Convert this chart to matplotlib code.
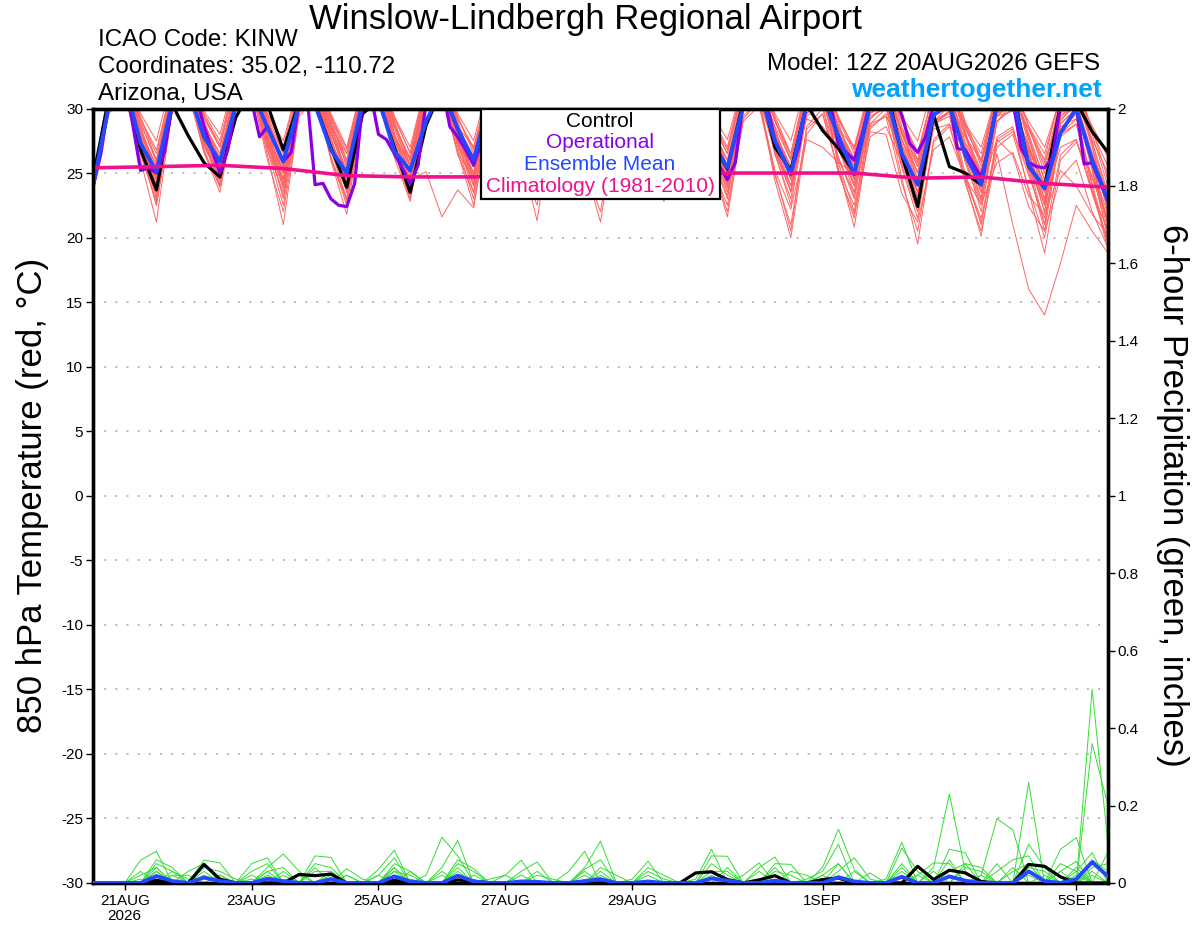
import matplotlib
matplotlib.use('Agg')
import matplotlib.pyplot as plt
from matplotlib.patches import Rectangle

plt.rcParams['font.family'] = ['Liberation Sans', 'DejaVu Sans']

# ---------------- data ----------------
hours = list(range(0, 385, 6))          # GEFS 6-hourly steps from 12Z 20AUG2026 (65 steps)
oper_hours = list(range(0, 385, 3))     # operational GFS 3-hourly steps (129 steps)
clim_hours = [0, 24, 48, 72, 96, 120, 144, 168, 192, 216, 240, 264, 288, 312, 336, 360, 384]
xtick_hours = [12, 60, 108, 156, 204, 276, 324, 372]
xtick_labels = ['21AUG\n2026', '23AUG', '25AUG', '27AUG', '29AUG', '1SEP', '3SEP', '5SEP']
temp_ticks = [-30, -25, -20, -15, -10, -5, 0, 5, 10, 15, 20, 25, 30]
precip_ticks = [0, 0.2, 0.4, 0.6, 0.8, 1.0, 1.2, 1.4, 1.6, 1.8, 2.0]
precip_tick_labels = ['0', '0.2', '0.4', '0.6', '0.8', '1', '1.2', '1.4', '1.6', '1.8', '2']

control_t = [24.6, 30.8, 32.0, 26.8, 23.7, 30.3, 27.9, 25.8, 24.7, 29.3, 31.5, 30.3,
             26.8, 30.5, 30.4, 27.0, 23.9, 29.6, 30.6, 27.0, 23.5, 28.7, 31.5, 28.4,
             26.0, 30.5, 32.0, 28.5, 25.5, 30.5, 32.0, 28.5, 25.8, 30.5, 32.0, 28.5,
             25.5, 30.5, 31.8, 27.5, 25.3, 30.5, 32.0, 27.0, 25.2, 30.3, 28.3, 26.9,
             25.0, 30.3, 31.8, 26.4, 22.4, 29.5, 25.5, 25.0, 24.1, 30.3, 31.5, 25.5,
             23.9, 30.2, 30.5, 28.2, 26.6]
oper_t = [23.9, 26.5, 30.5, 32.0, 32.2, 28.8, 25.2, 25.4,
          25.0, 26.6, 30.3, 31.8, 32.2, 31.0, 28.6, 26.8,
          25.0, 26.8, 30.3, 31.5, 30.6, 27.8, 28.6, 27.2,
          25.9, 26.6, 30.5, 31.0, 24.1, 24.2, 23.0, 22.5,
          22.4, 24.2, 30.5, 31.2, 28.0, 27.6, 26.5, 25.4,
          24.2, 25.6, 30.5, 31.6, 31.8, 28.6, 27.8, 26.8,
          25.6, 27.5, 30.5, 31.6, 31.8, 30.0, 28.2, 26.8,
          25.5, 27.2, 30.5, 31.6, 31.8, 30.2, 28.4, 27.0,
          25.6, 27.4, 30.3, 31.4, 31.5, 29.8, 28.0, 26.6,
          25.2, 27.0, 30.3, 31.2, 31.0, 29.4, 27.6, 25.5,
          24.5, 25.8, 30.5, 31.6, 31.8, 30.3, 27.5, 26.2,
          25.0, 27.0, 30.5, 31.4, 31.5, 30.4, 27.2, 26.6,
          26.0, 28.0, 30.5, 31.4, 31.6, 31.0, 29.5, 27.3,
          26.6, 27.8, 30.3, 31.2, 30.6, 26.9, 26.8, 25.7,
          24.7, 27.0, 30.5, 31.4, 30.6, 27.0, 25.8, 25.5,
          25.4, 26.2, 30.3, 31.0, 30.2, 25.7, 25.8, 24.3,
          22.8]
mean_t = [24.0, 30.2, 32.0, 27.3, 25.1, 30.5, 31.5, 27.8, 25.9, 30.2, 31.5, 28.5,
          25.9, 30.3, 30.3, 26.8, 25.0, 30.5, 30.8, 26.7, 25.2, 29.0, 31.5, 28.4,
          26.0, 30.5, 31.5, 28.5, 26.0, 30.5, 31.5, 28.5, 26.0, 30.5, 31.5, 28.5,
          26.0, 30.5, 31.5, 27.5, 25.4, 30.2, 31.5, 27.5, 24.9, 30.3, 31.0, 27.9,
          24.9, 30.3, 31.2, 26.5, 24.1, 29.5, 30.3, 26.4, 24.1, 30.3, 31.0, 25.6,
          23.8, 28.1, 30.0, 26.0, 22.9]
clim_t = [25.4, 25.5, 25.6, 25.35, 24.8, 24.7, 24.7, 24.85, 25.0, 25.0, 25.0, 25.0,
          25.0, 24.6, 24.7, 24.2, 23.9]

temp_members = [
    [24.3,30.8,32.0,27.5, 23.0,30.5,32.2,28.0, 25.0,31.0,32.5,28.5, 24.5,30.6,32.0,27.8, 23.5,30.2,31.5,27.0, 24.0,30.8,32.0,28.2, 24.5,31.0,32.4,28.0, 25.5,31.2,32.0,28.5, 25.0,30.8,31.8,27.6, 25.5,31.0,32.2,28.4, 24.5,30.4,31.6,27.5, 24.0,30.6,32.0,27.8, 24.5,30.2,31.4,27.2, 23.5,30.0,31.0,27.0, 24.0,29.6,30.8,26.8, 22.5,29.0,30.5,26.0, 21.0],
    [24.0,31.2,32.6,28.6, 24.5,31.4,32.8,29.0, 26.0,31.8,33.0,29.2, 25.5,31.5,32.6,28.8, 24.5,31.0,32.0,28.0, 25.0,31.2,32.5,28.6, 25.5,31.6,32.8,29.0, 26.0,31.8,32.6,29.2, 26.5,31.5,32.4,28.8, 26.0,31.6,32.8,29.0, 25.5,31.2,32.2,28.4, 25.0,31.0,32.4,28.6, 26.0,31.4,32.0,28.2, 24.5,30.8,31.8,27.8, 25.0,30.6,31.6,27.6, 24.0,30.2,31.2,27.2, 22.0],
    [24.8,30.4,31.8,28.2, 25.5,30.8,32.0,28.4, 25.5,31.0,32.2,29.0, 26.5,31.4,32.4,28.0, 25.0,30.6,31.8,27.6, 24.5,30.4,31.6,28.2, 26.0,31.2,32.0,27.8, 24.5,30.6,31.8,28.0, 25.5,31.0,32.2,28.8, 26.5,31.4,32.6,28.6, 26.0,31.0,32.0,28.0, 25.5,30.8,31.8,27.4, 24.0,30.2,31.4,28.0, 25.5,30.8,31.6,26.8, 23.5,29.8,31.0,26.4, 23.0,29.4,30.6,25.8, 20.5],
    [23.6,29.8,31.2,26.0, 21.2,30.0,31.6,27.2, 24.5,30.4,31.8,26.8, 23.5,30.0,31.2,26.2, 22.5,29.6,31.0,26.6, 23.5,30.2,31.4,27.0, 23.0,30.0,31.2,26.5, 23.5,30.4,31.6,27.2, 24.0,30.6,31.8,27.4, 25.0,30.8,32.0,27.0, 24.0,30.2,31.4,26.4, 23.0,29.8,31.0,26.0, 23.5,29.6,30.8,25.6, 22.0,29.0,30.2,26.2, 24.5,29.4,30.4,25.0, 21.0,28.4,29.6,24.2, 19.5],
    [24.5,31.6,33.0,29.4, 26.0,32.0,33.2,29.6, 27.5,32.4,33.4,29.0, 25.0,31.6,32.8,29.2, 25.5,31.8,33.0,29.4, 26.5,32.0,33.2,28.8, 24.5,31.4,32.6,29.2, 26.5,32.0,33.0,29.0, 25.0,31.6,32.6,28.6, 24.0,31.2,32.4,28.8, 25.0,31.6,32.8,29.4, 26.5,32.0,33.0,29.0, 25.0,31.4,32.4,29.2, 26.0,31.6,32.6,28.8, 25.5,31.2,32.2,28.6, 25.0,30.8,31.8,28.0, 24.0],
    [25.0,30.6,32.0,27.8, 24.0,30.2,31.8,27.4, 24.0,30.4,31.6,26.8, 22.5,29.8,31.2,27.0, 24.0,30.6,32.0,28.0, 25.5,31.0,32.2,28.6, 27.0,31.6,32.6,28.2, 25.0,30.8,31.8,27.6, 24.5,30.6,31.8,28.0, 25.5,31.0,32.0,27.2, 23.5,30.0,31.4,27.8, 24.5,30.6,31.8,28.4, 27.0,31.2,32.0,26.6, 23.0,29.8,30.6,25.8, 22.5,29.0,30.0,25.4, 20.5,28.0,29.2,24.0, 19.0],
    [24.2,30.4,31.8,27.0, 23.5,30.6,32.0,28.6, 26.5,31.4,32.4,27.8, 24.0,30.0,31.4,26.0, 21.8,29.6,31.2,26.6, 23.0,30.2,31.6,27.2, 24.0,30.6,31.8,26.4, 21.3,29.4,31.0,26.8, 23.0,30.0,31.4,27.4, 24.5,30.6,31.8,28.0, 25.5,31.0,32.2,28.4, 25.0,30.8,32.0,28.2, 25.5,31.0,32.2,28.0, 25.0,30.8,31.8,28.6, 26.5,31.2,32.0,28.0, 24.5,30.4,31.6,27.4, 23.0],
    [23.8,30.0,31.4,27.2, 22.5,30.2,31.6,27.8, 25.0,30.8,32.0,28.4, 25.5,31.0,32.2,28.8, 26.0,31.2,32.4,28.6, 26.0,31.4,32.6,28.0, 25.0,30.8,32.0,28.2, 25.5,31.0,32.2,29.0, 27.0,31.6,32.6,28.6, 26.0,31.2,32.2,27.6, 24.5,30.4,31.6,26.6, 22.5,29.6,31.0,27.0, 24.0,30.2,31.4,27.2, 24.0,30.0,31.2,26.4, 23.0,29.4,30.6,26.0, 22.0,28.8,30.0,25.2, 20.0],
    [24.6,30.8,32.2,28.0, 25.0,31.0,32.4,27.6, 24.2,30.2,31.6,26.4, 21.0,29.6,31.2,27.0, 24.5,30.6,31.8,27.2, 24.0,30.4,31.6,26.6, 22.5,29.8,31.0,26.8, 24.0,30.4,31.6,27.0, 24.5,30.6,31.8,26.6, 23.5,30.0,31.2,26.4, 23.0,29.8,31.0,27.0, 24.0,30.2,31.2,25.8, 22.0,29.2,30.4,25.4, 21.5,28.6,29.8,25.0, 21.0,27.8,28.6,23.6, 18.8,26.0,27.4,24.8, 21.5],
    [24.4,31.0,32.4,28.4, 24.5,31.2,32.6,29.0, 25.5,31.6,32.8,29.2, 26.0,31.8,33.0,29.0, 25.5,31.6,32.8,29.4, 27.0,32.0,33.0,29.4, 26.5,31.8,32.8,29.6, 27.5,32.2,33.2,29.2, 26.0,31.6,32.6,29.4, 27.0,32.0,33.0,29.2, 26.5,31.8,32.8,29.0, 26.0,31.6,32.6,28.6, 25.5,31.2,32.2,29.0, 26.5,31.4,32.2,28.2, 24.5,30.6,31.6,27.8, 23.5,30.0,31.0,27.0, 22.5],
    [24.1,31.4,33.0,29.6, 27.5,32.4,33.4,29.8, 28.0,32.6,33.6,29.6, 27.0,32.2,33.2,29.4, 26.5,32.0,33.0,29.0, 25.5,31.6,32.8,29.6, 27.5,32.2,33.2,29.2, 26.0,31.8,32.8,29.0, 25.5,31.6,32.6,28.8, 25.0,31.4,32.6,29.4, 27.0,32.0,33.0,29.6, 27.5,32.2,33.0,29.2, 26.5,31.8,32.6,29.4, 27.5,32.0,32.8,29.0, 26.0,31.4,32.2,28.6, 26.0,31.2,32.0,28.4, 24.5],
    [24.9,30.6,32.0,27.6, 23.8,30.2,31.6,27.0, 24.8,30.6,31.8,27.2, 24.5,30.4,31.6,26.8, 23.0,30.0,31.2,26.2, 22.8,29.8,31.0,26.6, 24.5,30.4,31.4,26.8, 24.5,30.2,31.2,25.6, 21.2,29.0,30.6,26.4, 24.0,30.2,31.2,25.8, 22.0,29.4,30.6,25.0, 20.5,28.6,30.0,26.2, 23.0,29.6,30.4,24.6, 19.5,27.6,28.8,24.2, 20.5,26.5,21.0,16.0, 14.0,18.0,22.5,20.5, 18.8],
    [24.3,30.8,32.2,28.4, 25.5,31.2,32.6,28.8, 26.0,31.4,32.6,27.6, 23.0,30.0,31.4,27.2, 24.0,30.4,31.8,28.0, 25.0,30.8,32.0,28.4, 25.5,31.2,32.4,28.6, 26.0,31.4,32.4,28.2, 25.0,30.8,32.0,28.0, 25.5,31.0,32.2,28.4, 25.0,30.8,32.0,28.6, 26.0,31.2,32.2,25.4, 20.8,28.4,29.6,26.0, 24.5,30.2,31.2,27.4, 25.0,30.4,31.2,26.6, 22.5,29.2,30.2,25.6, 21.0],
    [23.7,30.2,31.6,27.4, 24.0,30.4,31.8,26.8, 23.9,30.2,31.6,27.8, 25.0,30.8,32.0,28.6, 26.5,31.4,32.6,28.0, 24.0,30.4,31.8,27.6, 25.0,30.8,32.0,27.4, 24.0,30.4,31.6,28.2, 26.0,31.2,32.2,28.0, 25.0,30.8,31.8,28.4, 26.0,31.2,32.0,28.2, 25.5,31.0,32.0,27.8, 25.0,30.6,31.6,27.0, 23.0,29.6,30.8,26.2, 22.0,29.0,30.4,27.0, 23.5,29.8,30.8,27.6, 25.0],
    [24.5,31.4,32.8,29.2, 26.5,32.0,33.2,29.4, 27.0,32.2,33.2,29.0, 26.0,31.8,32.8,28.6, 25.0,31.2,32.4,28.8, 26.0,31.6,32.8,28.2, 24.0,30.8,32.0,28.4, 25.0,31.2,32.4,28.0, 24.0,30.8,32.0,28.8, 26.0,31.6,32.6,28.6, 24.5,31.0,32.2,28.4, 24.5,31.0,32.0,28.6, 25.5,31.2,32.2,28.2, 25.0,30.8,31.8,28.0, 24.0,30.4,31.4,27.8, 24.5,30.4,31.4,27.4, 23.5],
    [24.0,30.6,32.0,27.8, 24.5,30.8,32.2,28.0, 25.0,31.0,32.4,27.6, 24.0,30.4,31.8,27.2, 23.5,30.2,31.6,27.6, 24.5,25.1,21.6,23.7, 22.3,29.6,31.0,26.8, 23.5,30.2,31.4,27.6, 25.0,30.8,32.0,28.0, 24.5,30.6,31.8,28.2, 25.5,31.0,32.0,27.2, 23.5,30.0,31.2,27.6, 24.5,30.4,31.4,27.2, 24.0,30.0,31.0,27.0, 23.5,29.6,30.6,26.4, 22.0,28.8,30.0,25.4, 20.0],
    [24.7,30.8,32.2,28.6, 25.0,31.0,32.4,28.8, 26.5,31.6,32.8,28.8, 25.5,31.2,32.4,28.2, 24.5,30.8,32.0,27.0, 23.0,30.0,31.4,27.8, 25.5,31.0,32.2,28.0, 25.0,30.8,31.8,26.8, 23.5,30.2,31.4,27.0, 24.0,30.2,31.4,25.8, 21.6,29.2,30.6,26.8, 24.0,30.2,31.2,27.2, 25.0,30.6,31.4,26.0, 22.5,29.0,29.8,24.4, 20.1,27.6,28.4,24.8, 21.5,27.8,28.8,23.6, 19.5],
    [24.2,30.4,31.8,27.0, 23.5,30.2,31.6,28.0, 25.5,31.0,32.2,27.8, 24.5,30.6,31.8,28.2, 25.0,30.8,32.0,28.4, 25.5,31.2,32.2,27.4, 23.5,30.2,31.4,27.6, 24.5,30.6,31.8,28.2, 25.5,31.0,32.0,28.0, 25.0,30.8,31.8,27.6, 24.5,30.0,30.8,24.4, 20.0,28.0,29.6,25.2, 21.5,28.8,30.0,26.6, 23.5,29.8,30.8,27.0, 24.5,29.8,30.6,25.8, 21.0,28.2,29.6,26.0, 22.5],
    [23.9,30.2,31.6,27.6, 24.5,30.6,31.8,27.4, 24.5,30.6,31.8,28.0, 25.0,30.8,32.0,27.6, 24.0,30.4,31.6,27.8, 24.5,30.8,32.0,28.6, 26.0,31.4,32.4,27.2, 23.0,29.8,31.2,27.6, 24.5,30.6,31.8,28.2, 25.5,31.0,32.2,28.4, 25.0,30.8,32.0,28.0, 25.0,30.6,31.6,27.0, 23.5,29.8,31.0,28.4, 26.0,30.8,31.6,27.0, 23.0,29.8,30.8,28.4, 25.5,30.6,31.4,28.6, 26.5],
    [24.6,30.2,31.6,26.8, 22.5,29.8,31.4,27.8, 25.5,31.0,32.2,28.0, 24.0,30.4,31.8,27.6, 24.5,30.6,31.8,28.0, 25.0,30.8,32.0,27.8, 24.5,30.6,31.8,28.2, 25.5,31.0,32.2,27.6, 23.5,30.0,31.4,28.4, 26.0,31.2,32.2,27.6, 24.0,30.4,31.6,27.8, 24.5,30.6,31.8,27.4, 24.0,30.2,31.2,27.6, 24.5,30.4,31.4,28.4, 26.0,31.0,31.8,27.2, 23.0,29.6,30.6,26.4, 22.0],
    [24.4,31.0,32.4,28.8, 26.0,31.6,32.8,29.2, 27.0,32.0,33.0,29.0, 25.5,31.4,32.6,28.6, 25.0,31.0,32.2,28.8, 26.0,31.6,32.8,29.2, 27.0,31.8,32.6,28.8, 26.5,31.6,32.6,28.8, 26.0,31.4,32.4,28.4, 25.0,31.0,32.0,28.8, 26.5,31.4,32.2,27.8, 25.5,29.2,28.6,27.0, 24.5,28.8,29.4,27.6, 25.0,29.0,29.6,27.8, 26.0,29.4,29.8,27.2, 24.0,28.6,29.2,26.4, 23.5],
    [23.5,29.6,31.0,26.4, 22.8,29.8,31.2,26.6, 24.0,30.0,31.4,26.0, 22.0,29.4,30.8,26.2, 23.0,29.8,31.0,26.8, 24.0,30.2,31.4,26.4, 23.5,29.8,31.0,25.8, 22.5,29.4,30.6,25.4, 22.0,29.2,30.4,26.0, 23.5,29.8,30.8,25.6, 22.5,29.0,30.2,24.8, 21.0,28.4,29.6,25.2, 22.5,28.6,29.4,24.2, 20.5,27.4,28.6,24.6, 21.5,27.0,28.0,23.8, 20.0,26.4,27.6,23.6, 20.5],
    [24.8,31.2,32.6,29.0, 25.8,31.4,32.6,28.6, 25.0,31.2,32.6,29.6, 27.5,32.0,33.0,29.4, 26.0,31.6,32.8,28.8, 25.0,31.2,32.4,29.0, 25.5,31.4,32.6,29.4, 27.0,32.0,33.0,29.6, 27.5,32.2,33.0,29.2, 26.5,31.8,32.6,28.8, 25.5,31.2,32.2,29.0, 26.5,31.6,32.4,29.2, 27.0,31.8,32.4,28.6, 25.5,30.8,31.6,28.8, 27.0,31.2,31.8,28.6, 26.5,30.8,31.4,28.2, 25.5],
    [24.1,30.4,31.8,27.2, 24.8,30.6,31.8,26.6, 23.5,30.0,31.4,27.0, 24.5,30.4,31.6,26.2, 22.8,29.8,31.2,26.8, 24.2,30.4,31.6,27.4, 24.8,30.6,31.6,26.4, 23.2,29.8,31.0,27.2, 24.8,30.6,31.6,26.2, 22.8,29.6,30.8,26.6, 23.8,29.8,30.6,25.2, 22.2,27.6,27.0,25.8, 25.0,28.2,28.0,23.4, 21.2,26.8,27.8,24.6, 22.6,25.8,26.6,23.2, 21.8,25.2,24.0,21.8, 20.2],
    [24.5,30.8,32.2,28.0, 25.2,31.0,32.2,28.6, 26.2,31.4,32.6,27.6, 24.2,30.6,31.8,28.4, 25.8,31.2,32.4,28.0, 24.8,30.8,32.0,28.6, 26.2,31.4,32.4,27.6, 24.2,30.6,31.8,28.6, 26.2,31.4,32.4,28.8, 26.2,31.4,32.2,27.6, 24.2,30.4,31.4,28.0, 25.2,30.8,31.8,28.4, 26.2,31.0,31.6,28.2, 25.8,30.6,31.2,26.0, 22.8,29.0,30.0,26.8, 24.2,29.4,30.2,25.4, 21.8],
    [23.8,30.0,31.4,26.8, 23.2,30.0,31.4,27.6, 24.6,30.6,31.8,28.0, 25.2,30.8,32.0,27.6, 24.2,30.4,31.6,27.2, 23.6,30.2,31.4,27.4, 24.2,30.4,31.6,28.0, 25.2,30.8,31.8,27.8, 24.6,30.6,31.6,27.8, 24.8,30.6,31.6,28.0, 25.2,30.6,31.4,26.8, 23.6,29.6,30.6,26.2, 23.2,29.2,30.2,25.8, 22.8,28.8,29.8,27.2, 24.8,29.6,30.2,25.6, 22.6,28.0,28.8,24.6, 21.2],
    [24.3,31.2,32.8,29.2, 26.8,31.8,33.0,29.0, 25.8,31.6,32.8,29.4, 26.6,31.8,33.0,29.6, 27.0,32.0,33.2,29.2, 26.6,31.8,32.8,28.8, 25.8,31.4,32.6,28.4, 24.8,31.0,32.2,28.6, 25.2,31.2,32.4,29.4, 27.2,32.0,32.8,29.2, 26.8,31.6,32.4,28.2, 24.8,30.6,31.6,28.6, 25.8,30.8,31.4,27.6, 24.2,29.8,30.6,28.0, 25.2,30.0,30.6,28.4, 25.8,29.8,30.4,26.6, 23.0],
    [24.0,30.6,32.0,28.0, 25.6,31.2,32.4,27.8, 24.8,30.8,32.0,27.4, 23.8,30.2,31.6,28.2, 25.2,31.0,32.2,28.6, 26.2,31.4,32.4,28.0, 24.6,30.8,32.0,28.2, 25.6,31.2,32.2,27.4, 23.8,30.2,31.4,27.8, 25.2,30.8,31.8,27.8, 24.6,30.4,31.2,26.6, 23.6,29.4,30.2,25.0, 21.8,27.8,28.6,25.8, 23.2,28.4,28.8,26.6, 23.8,27.6,26.4,22.4, 20.5,24.6,26.0,22.0, 19.2],
    [24.7,30.8,32.2,27.8, 24.2,30.8,32.4,29.4, 27.2,32.0,33.0,29.2, 25.8,31.4,32.6,29.4, 26.8,31.8,33.0,29.0, 25.6,31.4,32.6,29.2, 26.8,31.8,32.8,29.0, 26.2,31.6,32.6,28.8, 25.8,31.4,32.4,29.2, 26.6,31.8,32.6,29.6, 27.6,32.0,32.8,29.2, 26.2,31.4,32.2,29.4, 26.8,31.6,32.0,29.2, 26.6,31.2,31.6,28.6, 25.8,30.6,31.2,29.0, 27.0,30.8,31.2,28.6, 26.2],
    [24.2,30.2,31.6,27.2, 23.8,30.2,31.6,28.0, 25.2,30.8,32.0,27.2, 23.2,30.0,31.4,27.6, 24.6,30.6,31.8,27.4, 23.8,30.2,31.6,28.2, 25.6,31.0,32.0,27.8, 24.6,30.6,31.8,27.4, 23.8,30.2,31.4,27.6, 24.2,30.4,31.4,26.8, 23.2,29.8,30.8,27.4, 24.6,30.0,30.8,26.8, 24.2,29.4,30.0,26.4, 23.6,28.8,29.4,24.6, 21.2,27.4,28.2,25.2, 22.8,27.0,27.6,23.4, 19.8],
]

control_p = [0,0,0,0, .007,0,0,.048, .01,0,0,0, 0,.022,.019,.023, 0,0,0,.007, 0,0,0,.008,
             .005,0,0,0, 0,0,0,0, 0,0,0,0, 0,0,.026,.029, .009,0,.008,.019, 0,0,.009,.013,
             0,0,0,0, .043,.009,.033,.026, .004,0,0,.048, .043,.016,0,0, 0]
mean_p = [0,0,0,0, .018,.005,0,.014, .005,0,0,.011, .005,0,0,.010, 0,0,0,.017, .004,0,0,.019,
          .004,0,0,.004, .003,0,0,.005, .01,0,0,.004, 0,0,0,.012, .006,0,0,.006, 0,0,0,.015,
          .004,0,0,.016, 0,0,.017,.006, 0,0,0,.03, .005,0,.01,.054, .017]

precip_members = [
    [0,0,0,.059, .082,0,0,0, 0,0,0,0, 0,0,0,0, 0,0,0,.05, .03,0,0,0, 0,0,0,0, 0,0,0,0, 0,0,0,.02, 0,0,0,0, 0,0,0,0, 0,0,0,0, 0,0,0,0, 0,0,.087,.078, 0,0,0,0, 0,0,0,0, 0],
    [0,0,0,0, .06,.04,0,0, 0,0,0,0, 0,0,0,0, 0,0,0,0, 0,.02,.118,.07, 0,0,0,0, 0,0,0,0, 0,0,0,0, 0,0,0,0, 0,0,0,0, 0,0,0,0, 0,0,0,0, 0,0,0,.05, .04,0,0,0, 0,0,0,0, 0],
    [0,0,0,0, 0,0,.03,.05, 0,0,0,0, 0,0,0,0, 0,0,0,0, 0,0,0,.05, .03,0,0,0, 0,0,0,0, 0,0,0,0, 0,0,0,0, 0,0,0,0, 0,0,0,0, 0,0,0,0, 0,0,0,0, .02,.166,.137,0, 0,0,0,0, 0],
    [0,0,0,0, 0,0,0,.059, .052,0,0,0, 0,0,0,0, 0,0,0,0, 0,0,0,0, 0,0,0,0, 0,0,0,.035, .06,0,0,0, 0,0,0,0, 0,0,0,0, 0,0,0,0, 0,0,0,0, 0,0,0,0, 0,.03,.06,.07, 0,0,0,0, 0],
    [0,0,0,.03, 0,0,0,0, 0,0,.05,.065, 0,0,0,0, 0,0,0,0, 0,0,0,0, 0,0,0,0, 0,0,0,0, 0,0,0,.03, .01,0,0,0, 0,0,0,0, 0,0,0,0, 0,0,0,0, 0,0,0,0, 0,0,0,.26, 0,0,0,0, 0],
    [0,0,0,0, .05,.03,0,0, 0,0,0,0, 0,0,.07,.066, 0,0,0,0, 0,0,0,0, 0,0,0,0, 0,0,0,0, 0,0,0,0, 0,0,.01,.087, 0,0,0,0, 0,0,0,0, 0,0,0,0, 0,0,0,0, 0,0,0,.10, .04,0,0,0, 0],
    [0,0,0,0, 0,0,0,0, 0,0,0,0, 0,0,0,0, .037,.01,0,.04, 0,0,0,0, 0,0,0,0, 0,0,0,0, 0,0,0,0, 0,0,0,.07, .069,0,0,0, 0,0,0,0, 0,0,0,0, 0,0,0,0, 0,0,0,.04, .03,0,0,0, 0],
    [0,0,0,0, 0,0,0,.04, .03,.01,0,0, 0,0,0,0, 0,0,0,0, 0,0,0,0, 0,0,0,0, 0,0,0,0, 0,0,0,0, 0,0,0,.03, .03,0,0,0, 0,0,0,0, 0,0,0,0, 0,0,0,0, 0,0,0,0, 0,.087,.117,0, 0],
    [0,0,0,0, .04,0,0,0, 0,0,0,0, 0,0,0,0, 0,0,0,0, 0,0,.04,.11, 0,0,0,0, 0,0,0,0, 0,0,0,0, 0,0,0,0, 0,.02,.052,0, 0,0,0,0, 0,0,0,0, 0,0,0,0, 0,0,0,0, 0,.03,.056,0, 0],
    [0,0,0,0, 0,0,0,0, 0,0,.03,.05, 0,0,0,0, 0,0,0,0, 0,0,0,0, 0,0,0,.03, .054,0,0,0, 0,0,0,0, 0,0,0,0, 0,0,.04,.067, 0,0,0,0, 0,0,0,0, 0,0,0,0, 0,0,0,0, 0,0,.03,.078, 0],
    [0,0,0,0, 0,0,0,0, 0,0,0,.04, .075,.03,0,0, 0,0,0,0, 0,0,0,0, 0,0,0,0, 0,0,0,0, 0,0,0,0, 0,0,0,0, 0,0,0,.05, .048,0,0,0, 0,0,0,0, 0,0,0,0, 0,0,0,0, 0,0,0,.50, .10],
    [0,0,0,0, .02,0,0,0, 0,0,0,0, 0,0,.05,.04, 0,0,0,0, 0,0,0,0, 0,0,0,0, 0,0,0,0, 0,0,0,0, 0,0,0,0, 0,0,0,.03, .02,0,0,0, 0,0,0,0, 0,0,0,0, 0,0,0,0, 0,0,0,.36, .20],
    [0,0,0,0, 0,0,0,0, 0,0,0,0, 0,0,0,0, 0,0,.035,.085, 0,0,0,0, 0,0,0,0, 0,0,0,0, 0,0,0,0, 0,0,0,0, 0,0,0,0, 0,.01,.03,.10, 0,0,0,0, 0,0,0,0, 0,0,0,0, 0,0,0,.04, .05],
    [0,0,0,0, 0,.02,.02,0, 0,0,0,0, 0,0,0,0, 0,0,0,0, 0,0,0,.06, .037,0,0,0, 0,0,0,0, 0,0,0,0, 0,0,0,0, 0,0,0,0, 0,0,.04,.139, .035,0,0,0, 0,0,0,0, 0,0,0,0, 0,0,0,0, 0],
    [0,0,0,0, 0,0,0,0, 0,0,.02,0, 0,0,0,0, 0,0,0,0, 0,0,0,0, 0,.01,.02,.059, 0,0,0,0, 0,0,0,0, 0,0,0,0, 0,0,0,0, 0,0,0,.03, .065,.01,0,0, 0,0,0,0, 0,0,0,0, 0,0,0,0, 0],
    [0,0,0,0, 0,0,0,0, 0,0,0,.03, .04,0,0,0, 0,0,0,0, 0,0,0,0, 0,0,0,0, .02,.01,0,0, 0,0,0,0, 0,0,0,0, 0,0,0,0, 0,0,0,0, 0,.026,0,.03, 0,0,0,0, 0,0,0,0, 0,0,0,0, 0],
    [0,0,0,0, 0,0,0,0, 0,0,0,0, 0,0,.03,.03, 0,0,0,0, 0,0,0,0, 0,0,0,0, 0,0,.03,.082, 0,0,0,0, 0,0,0,0, 0,0,0,0, 0,0,0,0, 0,0,.01,.105, 0,0,0,0, 0,0,0,0, 0,0,0,0, 0],
    [0,0,0,0, 0,0,0,0, 0,0,0,0, 0,0,0,0, .02,0,0,0, 0,0,0,0, 0,0,0,0, 0,0,0,.04, .108,0,0,0, 0,0,0,0, 0,0,0,0, 0,0,0,0, 0,0,0,.09, .03,0,0,0, 0,0,0,0, 0,0,0,0, 0],
    [0,0,0,0, 0,0,0,0, 0,0,0,0, 0,0,0,0, 0,0,.02,.065, 0,0,0,0, 0,0,0,0, 0,0,0,0, .04,.02,0,0, 0,0,0,0, 0,0,0,0, 0,0,0,0, 0,0,0,0, .02,.052,.05,0, 0,0,0,0, 0,0,0,0, 0],
    [0,0,0,0, 0,0,0,0, 0,0,0,0, 0,0,0,0, 0,0,0,.03, .02,0,0,0, 0,0,0,0, 0,0,0,0, 0,0,.01,.056, 0,0,0,0, 0,0,0,0, 0,0,0,0, 0,0,0,0, 0,.04,.23,.03, 0,0,0,0, 0,0,0,0, 0],
    [0,0,0,0, 0,.03,.01,0, 0,0,0,0, 0,0,0,0, 0,0,0,0, .03,0,0,0, 0,0,0,.02, 0,0,0,0, 0,0,0,0, 0,0,0,0, 0,0,0,0, .03,.02,0,0, 0,0,0,0, 0,0,0,0, 0,0,0,0, 0,.05,.03,0, 0],
    [0,0,0,.02, .04,0,0,0, 0,0,0,0, .03,0,0,0, 0,0,0,0, 0,0,0,0, .02,0,0,0, 0,0,0,.03, 0,0,0,0, 0,0,0,0, 0,0,0,0, 0,0,.02,0, 0,0,0,0, 0,0,0,.04, .03,0,0,0, 0,0,0,0, 0],
    [0,0,0,0, 0,0,0,0, .02,0,0,.03, 0,0,0,0, 0,0,0,.04, 0,0,0,.04, 0,0,0,0, 0,0,0,0, 0,0,0,0, 0,0,0,.05, .02,0,0,0, 0,0,0,0, 0,0,0,0, 0,0,0,0, 0,0,.03,.05, 0,0,0,0, 0],
    [0,0,0,0, .03,0,0,.02, 0,0,0,0, 0,0,0,.02, 0,0,0,0, 0,0,.03,0, 0,0,0,0, 0,0,0,0, .03,0,0,0, 0,0,0,0, 0,0,0,0, 0,0,0,0, 0,0,0,.04, 0,0,.06,0, 0,0,0,0, 0,0,0,.06, .03],
    [0,0,0,0, 0,0,0,0, 0,0,.01,0, 0,0,.04,0, 0,0,0,.02, 0,0,0,0, 0,0,0,0, .03,0,0,0, 0,0,0,0, 0,0,0,0, 0,0,0,.04, 0,0,0,.05, 0,0,0,0, 0,0,0,0, 0,0,0,0, .02,0,.04,0, 0],
    [0,0,0,0, 0,0,0,.03, 0,0,0,0, 0,0,0,0, 0,0,.02,0, 0,0,0,.03, 0,0,0,0, 0,0,0,0, 0,0,0,.04, .02,0,0,0, 0,0,0,0, 0,0,0,0, 0,0,0,0, .02,0,0,0, 0,.05,0,0, 0,0,0,0, .08],
    [0,0,0,0, .03,0,0,0, 0,0,0,.02, 0,0,0,0, .02,0,0,0, 0,0,0,0, 0,0,.02,0, 0,0,0,0, 0,0,0,0, 0,0,0,0, .04,0,0,0, 0,0,0,0, .03,0,0,0, 0,.03,0,0, 0,0,0,.02, 0,0,0,.03, 0],
    [0,0,0,0, 0,.02,0,0, 0,0,0,0, 0,.02,0,0, 0,0,0,.03, 0,0,0,0, 0,0,0,0, 0,0,0,.02, 0,0,0,0, 0,0,0,0, 0,0,.03,0, 0,0,0,0, 0,0,0,0, 0,0,.03,.05, 0,0,0,0, 0,0,.02,0, 0],
    [0,0,0,0, 0,0,0,0, .02,0,0,0, 0,0,0,.03, 0,0,0,0, 0,0,.02,0, 0,0,0,0, 0,0,0,0, 0,0,0,0, 0,0,0,.02, 0,0,0,0, 0,0,.02,.05, 0,0,0,0, 0,0,0,0, 0,0,.04,0, 0,0,0,.02, 0],
    [0,0,0,.01, 0,0,0,0, 0,0,0,0, .02,0,0,0, 0,0,0,0, .01,0,0,0, 0,0,0,0, 0,0,0,0, .02,0,0,0, 0,0,0,0, 0,0,0,.02, 0,0,0,0, 0,0,0,.05, 0,0,0,0, .02,0,0,0, 0,.03,0,0, 0],
]

# ---------------- styling ----------------
C_RED = '#ff6464'
C_GREEN = '#33dd33'
C_PURPLE = '#8a00e6'
C_BLUE = '#2448ff'
C_CLIM = '#f0108c'
C_WEB = '#00a2ff'

W, H = 1200, 927
def fx(px):
    return px / W
def fy(py):
    return 1 - py / H

fig = plt.figure(figsize=(12, 9.27), dpi=100)
fig.patch.set_facecolor('white')
ax_l, ax_r, ax_t, ax_b = 93, 1108, 108.5, 883
ax = fig.add_axes([fx(ax_l), fy(ax_b), (ax_r - ax_l) / W, (ax_b - ax_t) / H])
ax2 = ax.twinx()

# temperature
for m in temp_members:
    ax.plot(hours[:len(m)], m, color=C_RED, lw=0.7, zorder=1)
ax.plot(hours, control_t, color='black', lw=2.3, zorder=3)
ax.plot(oper_hours[:len(oper_t)], oper_t, color=C_PURPLE, lw=2.3, zorder=4)
ax.plot(hours, mean_t, color=C_BLUE, lw=2.8, zorder=5)
ax.plot(clim_hours, clim_t, color=C_CLIM, lw=2.6, zorder=6)

for yv in temp_ticks[1:-1]:
    ax.axhline(yv, color='#b0b0b0', lw=1.2, ls=(0, (1.2, 5.5)), zorder=0.5)

ax.set_xlim(0, 384)
ax.set_ylim(-30, 30)
ax.set_yticks(temp_ticks)
ax.set_yticklabels([str(v) for v in temp_ticks])
ax.set_xticks(xtick_hours)
ax.set_xticklabels(xtick_labels, linespacing=1.05)
ax.tick_params(axis='y', direction='out', length=5, width=1, labelsize=11, pad=2)
ax.tick_params(axis='x', direction='out', length=5, width=1, labelsize=11, pad=3)

# precipitation
for m in precip_members:
    ax2.plot(hours[:len(m)], m, color=C_GREEN, lw=0.7, zorder=1)
ax2.plot(hours, control_p, color='black', lw=2.3, zorder=3)
ax2.plot(hours, mean_p, color=C_BLUE, lw=2.8, zorder=4)
ax2.set_ylim(0, 2)
ax2.set_yticks(precip_ticks)
ax2.set_yticklabels(precip_tick_labels)
ax2.tick_params(axis='y', direction='out', length=5, width=1, labelsize=11, pad=2)

for a in (ax, ax2):
    for s in a.spines.values():
        s.set_linewidth(2.4)
        s.set_color('black')

# texts
fig.text(fx(585), fy(29.5), 'Winslow-Lindbergh Regional Airport', ha='center', va='baseline', fontsize=25)
fig.text(fx(98.5), fy(46), 'ICAO Code: KINW', ha='left', va='baseline', fontsize=17.4)
fig.text(fx(98.5), fy(73), 'Coordinates: 35.02, -110.72', ha='left', va='baseline', fontsize=17.4)
fig.text(fx(98.5), fy(100), 'Arizona, USA', ha='left', va='baseline', fontsize=17.4)
fig.text(fx(1100), fy(70.5), 'Model: 12Z 20AUG2026 GEFS', ha='right', va='baseline', fontsize=17.4)
fig.text(fx(1102), fy(96.5), 'weathertogether.net', ha='right', va='baseline', fontsize=19,
         fontweight='bold', color=C_WEB)
fig.text(fx(33), fy(495.5), '850 hPa Temperature (red, \u00b0C)', rotation=90, ha='center', va='center', fontsize=25)
fig.text(fx(1173), fy(495.5), '6-hour Precipitation (green, inches)', rotation=270, ha='center', va='center', fontsize=25)

# legend box
leg = Rectangle((fx(481), fy(199)), (719.5 - 481) / W, (199 - 108.7) / H, transform=fig.transFigure,
                facecolor='white', edgecolor='black', lw=1.6, zorder=5)
fig.add_artist(leg)
leg_items = [('Control', 'black', 126.7), ('Operational', C_PURPLE, 147.7),
             ('Ensemble Mean', C_BLUE, 170), ('Climatology (1981-2010)', C_CLIM, 191.7)]
for txt, col, py in leg_items:
    fig.text(fx(600), fy(py), txt, ha='center', va='baseline', fontsize=15, color=col, zorder=6)

fig.savefig('out.png', dpi=100, facecolor='white')
